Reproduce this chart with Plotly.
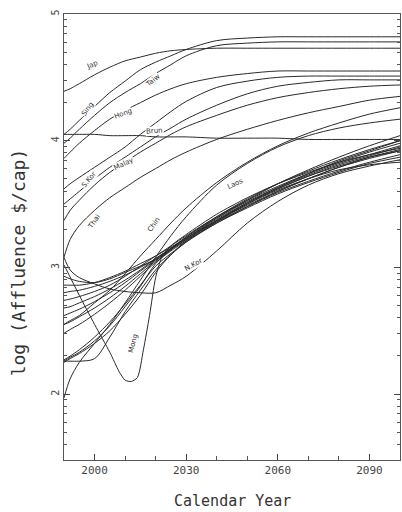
import math
import plotly.graph_objects as go

# ---------------- data ----------------
years = [1990, 1992, 1995, 2000, 2005, 2010, 2015, 2020, 2025, 2030,
         2040, 2050, 2060, 2070, 2080, 2090, 2100]

jap   = [4.39, 4.41, 4.45, 4.52, 4.58, 4.63, 4.66, 4.69, 4.71, 4.72, 4.73, 4.73, 4.73, 4.73, 4.73, 4.73, 4.73]
sing  = [4.05, 4.09, 4.16, 4.27, 4.38, 4.47, 4.56, 4.62, 4.67, 4.72, 4.79, 4.81, 4.82, 4.82, 4.82, 4.82, 4.82]
taiw  = [3.98, 4.02, 4.09, 4.20, 4.30, 4.38, 4.45, 4.53, 4.60, 4.67, 4.75, 4.77, 4.78, 4.78, 4.78, 4.78, 4.78]
hong  = [3.86, 3.91, 3.98, 4.08, 4.17, 4.24, 4.30, 4.36, 4.41, 4.45, 4.50, 4.53, 4.55, 4.55, 4.55, 4.55, 4.55]
brun  = [4.05, 4.05, 4.05, 4.05, 4.04, 4.04, 4.04, 4.03, 4.03, 4.03, 4.02, 4.02, 4.02, 4.01, 4.01, 4.01, 4.01]
skor  = [3.62, 3.66, 3.71, 3.79, 3.87, 3.95, 4.05, 4.14, 4.23, 4.31, 4.42, 4.47, 4.50, 4.51, 4.51, 4.51, 4.51]
othr  = [3.50, 3.54, 3.60, 3.70, 3.79, 3.87, 3.95, 4.03, 4.10, 4.17, 4.28, 4.37, 4.43, 4.46, 4.48, 4.48, 4.48]
malay = [3.37, 3.45, 3.53, 3.65, 3.75, 3.83, 3.91, 3.98, 4.05, 4.11, 4.20, 4.28, 4.34, 4.38, 4.41, 4.43, 4.44]
thai  = [3.08, 3.22, 3.33, 3.45, 3.55, 3.63, 3.71, 3.78, 3.85, 3.91, 4.01, 4.09, 4.16, 4.22, 4.27, 4.32, 4.35]
nkor  = [3.08, 2.98, 2.92, 2.87, 2.83, 2.81, 2.80, 2.80, 2.86, 2.93, 3.13, 3.35, 3.52, 3.65, 3.74, 3.80, 3.85]
chin  = [2.55, 2.58, 2.62, 2.72, 2.82, 2.95, 3.09, 3.22, 3.35, 3.47, 3.67, 3.83, 3.96, 4.06, 4.14, 4.21, 4.26]
laos  = [1.97, 2.12, 2.25, 2.40, 2.55, 2.72, 2.90, 3.08, 3.25, 3.40, 3.65, 3.82, 3.95, 4.04, 4.10, 4.14, 4.17]

b1  = [2.93, 2.91, 2.89, 2.88, 2.91, 2.96, 3.01, 3.06, 3.14, 3.22, 3.37, 3.51, 3.63, 3.74, 3.84, 3.92, 4.00]
b2  = [2.86, 2.86, 2.86, 2.88, 2.92, 2.97, 3.03, 3.09, 3.16, 3.23, 3.38, 3.51, 3.62, 3.72, 3.81, 3.88, 3.95]
b3  = [2.80, 2.81, 2.82, 2.85, 2.89, 2.94, 3.00, 3.07, 3.15, 3.23, 3.39, 3.53, 3.66, 3.77, 3.87, 3.96, 4.04]
b4  = [2.74, 2.75, 2.77, 2.81, 2.86, 2.93, 3.01, 3.09, 3.17, 3.25, 3.40, 3.53, 3.64, 3.74, 3.83, 3.91, 3.98]
b5  = [2.68, 2.69, 2.72, 2.77, 2.83, 2.90, 2.98, 3.07, 3.15, 3.23, 3.37, 3.49, 3.60, 3.70, 3.79, 3.86, 3.92]
b6  = [2.62, 2.64, 2.67, 2.73, 2.80, 2.88, 2.97, 3.06, 3.15, 3.24, 3.39, 3.52, 3.63, 3.73, 3.82, 3.89, 3.96]
b7  = [2.55, 2.57, 2.61, 2.68, 2.76, 2.85, 2.95, 3.05, 3.14, 3.22, 3.36, 3.48, 3.59, 3.68, 3.76, 3.83, 3.89]
b8  = [2.48, 2.51, 2.55, 2.63, 2.72, 2.82, 2.93, 3.04, 3.13, 3.21, 3.35, 3.47, 3.58, 3.67, 3.75, 3.82, 3.87]
b9  = [2.27, 2.30, 2.35, 2.45, 2.57, 2.71, 2.86, 3.01, 3.11, 3.20, 3.35, 3.48, 3.60, 3.70, 3.79, 3.87, 3.93]
b10 = [2.26, 2.29, 2.33, 2.42, 2.54, 2.69, 2.85, 3.03, 3.14, 3.24, 3.40, 3.54, 3.66, 3.76, 3.85, 3.93, 4.00]
b11 = [2.26, 2.26, 2.26, 2.28, 2.45, 2.65, 2.82, 2.98, 3.10, 3.20, 3.36, 3.50, 3.62, 3.72, 3.80, 3.87, 3.92]
b12 = [2.25, 2.28, 2.32, 2.40, 2.50, 2.63, 2.78, 2.96, 3.10, 3.21, 3.37, 3.50, 3.61, 3.70, 3.77, 3.81, 3.83]

mong_years = [1990, 1995, 2000, 2005, 2008, 2010, 2012, 2014, 2016, 2018, 2020,
              2022, 2025, 2030, 2040, 2050, 2060, 2070, 2080, 2090, 2100]
mong = [3.02, 2.78, 2.55, 2.33, 2.18, 2.11, 2.10, 2.13, 2.35, 2.62, 2.92,
        3.08, 3.17, 3.26, 3.42, 3.55, 3.66, 3.75, 3.83, 3.89, 3.94]

# labels: (text, year, value, angle)
label_text  = ["Jap", "Sing", "Taiw", "Hong", "Brun", "S.Kor", "Malay", "Thai", "Chin", "Laos", "N.Kor", "Mong"]
label_year  = [1999.1, 1997.8, 2019.0, 2009.2, 2019.6, 1998.1, 2009.5, 1999.8, 2019.6, 2046.0, 2032.3, 2012.8]
label_value = [4.60, 4.25, 4.47, 4.21, 4.08, 3.69, 3.82, 3.36, 3.34, 3.66, 3.02, 2.40]
label_angle = [-25, -55, -40, -20, -5, -50, -25, -55, -55, -25, -30, -75]

x_major = [2000, 2030, 2060, 2090]
y_major = [2, 3, 4, 5]

# ---------------- figure ----------------
series = [jap, sing, taiw, hong, brun, skor, othr, malay, thai, nkor, chin, laos,
          b1, b2, b3, b4, b5, b6, b7, b8, b9, b10, b11, b12]

LINE = "#2a2a2a"
fig = go.Figure()
for s in series:
    fig.add_trace(go.Scatter(x=years, y=s, mode="lines",
                             line=dict(color=LINE, width=1, shape="spline", smoothing=0.9),
                             hoverinfo="skip", showlegend=False))
fig.add_trace(go.Scatter(x=mong_years, y=mong, mode="lines",
                         line=dict(color=LINE, width=1, shape="spline", smoothing=0.7),
                         hoverinfo="skip", showlegend=False))

for t, xv, yv, a in zip(label_text, label_year, label_value, label_angle):
    fig.add_annotation(x=xv, y=yv, text=t, showarrow=False, textangle=a,
                       font=dict(family="DejaVu Sans", size=7, color="#333"),
                       bgcolor="white", borderpad=0)

# axis titles placed as in the reference
fig.add_annotation(xref="paper", yref="paper", x=0.5, y=-0.068, yanchor="top",
                   text="Calendar Year", showarrow=False,
                   font=dict(family="DejaVu Sans Mono", size=15, color="#333"))
fig.add_annotation(xref="paper", yref="y", x=-0.137, y=3.04, xanchor="center",
                   text="log (Affluence $/cap)", showarrow=False, textangle=-90,
                   font=dict(family="DejaVu Sans Mono", size=18, color="#333"))

minor_y = [d + math.log10(k) for d in range(1, 5) for k in range(2, 10)]
minor_y = [v for v in minor_y if 1.48 <= v <= 5.0]

fig.update_xaxes(range=[1990, 2100], tickvals=x_major, ticks="inside", ticklen=6,
                 showgrid=False, zeroline=False, showline=True, linecolor="#555",
                 linewidth=1, mirror=True,
                 tickfont=dict(family="DejaVu Sans Mono", size=11, color="#444"),
                 minor=dict(dtick=10, tick0=2000, ticks="inside", ticklen=4, tickcolor="#555"))
fig.update_yaxes(range=[1.48, 5.0], tickvals=y_major, ticks="inside", ticklen=6,
                 showgrid=False, zeroline=False, showline=True, linecolor="#555",
                 linewidth=1, mirror="ticks", tickangle=-90,
                 tickfont=dict(family="DejaVu Sans Mono", size=10, color="#444"),
                 minor=dict(tickvals=minor_y, ticks="inside", ticklen=3, tickcolor="#555"))

fig.update_layout(width=402, height=512, margin=dict(l=64, r=2, t=14, b=52),
                  paper_bgcolor="white", plot_bgcolor="white")

fig.write_html("out.html")
